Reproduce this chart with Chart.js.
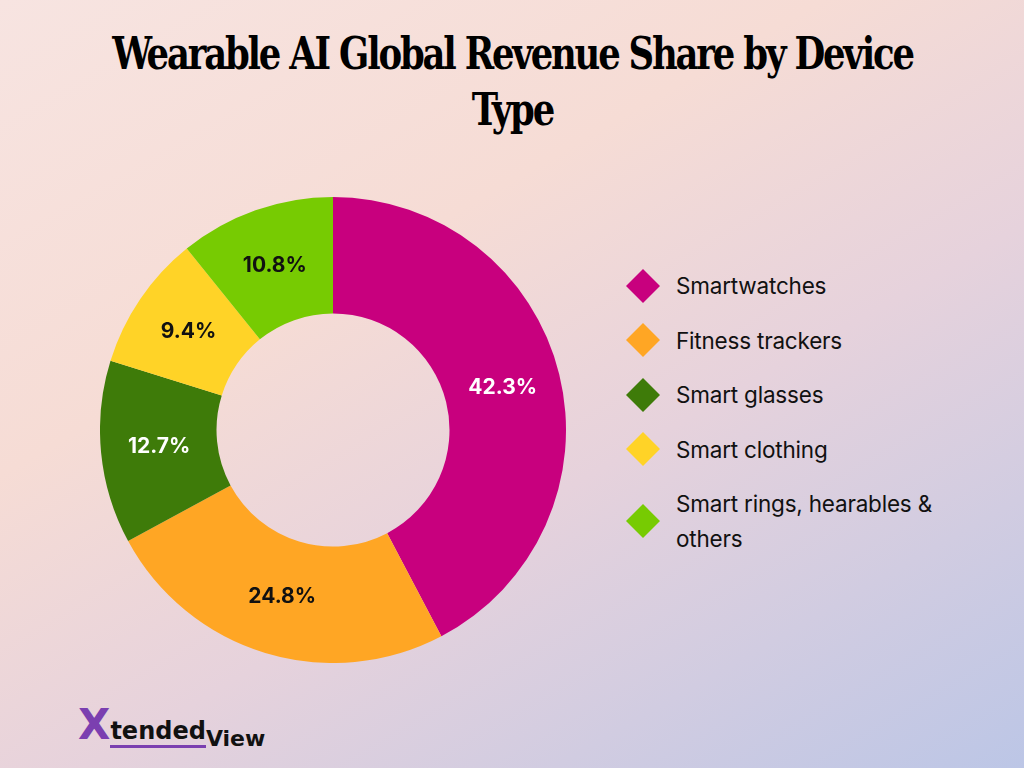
<!DOCTYPE html>
<html>
<head>
<meta charset="utf-8">
<script src="https://cdn.jsdelivr.net/npm/chart.js@4.4.0/dist/chart.umd.min.js"></script>
<style>
  html, body { margin: 0; padding: 0; }
  body {
    width: 1024px; height: 768px; overflow: hidden; position: relative;
    background: linear-gradient(150deg, #f7e4e1 0%, #f6dcd5 35%, #e6d2dc 60%, #bcc6e6 100%);
    font-family: Inter, "Noto Sans", sans-serif;
  }
  #title {
    position: absolute; left: 0; top: 26px; width: 1024px; text-align: center; margin: 0;
  }
  #title span {
    display: inline-block; transform: scaleX(0.875); transform-origin: center;
    font-family: "DejaVu Serif Condensed", "DejaVu Serif", serif; font-stretch: condensed;
    font-weight: bold; font-size: 45px; line-height: 56px; letter-spacing: -2.5px; color: #000;
  }
  #chartBox { position: absolute; left: 100px; top: 197px; width: 466px; height: 466px; }
  #legend { position: absolute; left: 626px; top: 268px; width: 360px; }
  .item { display: flex; align-items: center; margin-bottom: 19.5px; }
  .swatch { width: 24px; height: 24px; transform: rotate(45deg); margin: 0 21px 0 5px; flex: none; }
  .label { font-size: 22.5px; color: #111; line-height: 35px; letter-spacing: -0.2px; }
  #logo { position: absolute; left: 78px; top: 700px; font-family: "DejaVu Sans", sans-serif; font-weight: bold; }
  #logo .x { font-size: 42px; color: #7b3fb0; }
  #logo .t { font-size: 24px; color: #111; border-bottom: 3px solid #7b3fb0; }
  #logo .v { font-size: 22px; color: #111; position: relative; top: 7px; }
</style>
</head>
<body>
<h1 id="title"><span>Wearable AI Global Revenue Share by Device<br>Type</span></h1>
<div id="chartBox"><canvas id="donut"></canvas></div>
<div id="legend"></div>
<div id="logo"><span class="x">X</span><span class="t">tended</span><span class="v">View</span></div>
<script>
// --- Data ---
const categories = ['Smartwatches', 'Fitness trackers', 'Smart glasses', 'Smart clothing', 'Smart rings, hearables & others'];
const shares = [42.3, 24.8, 12.7, 9.4, 10.8];
const colors = ['#c8007e', '#ffa624', '#3e7b09', '#ffd327', '#77cb02'];
const labelColors = ['#ffffff', '#111111', '#ffffff', '#111111', '#111111'];

// Draw the percentage inside each slice
const sliceLabels = {
    id: 'sliceLabels',
    afterDatasetsDraw(chart) {
        const ctx = chart.ctx;
        const meta = chart.getDatasetMeta(0);
        ctx.save();
        ctx.font = 'bold 21px Inter, "Noto Sans", sans-serif';
        ctx.textAlign = 'center';
        ctx.textBaseline = 'middle';
        meta.data.forEach((arc, i) => {
            const p = arc.tooltipPosition();
            ctx.fillStyle = labelColors[i];
            ctx.fillText(shares[i].toFixed(1) + '%', p.x, p.y);
        });
        ctx.restore();
    }
};

new Chart(document.getElementById('donut'), {
    type: 'doughnut',
    data: {
        labels: categories,
        datasets: [{
            data: shares,
            backgroundColor: colors,
            borderWidth: 0,
        }]
    },
    options: {
        responsive: true,
        maintainAspectRatio: false,
        animation: false,
        cutout: '50%',
        layout: { padding: 0 },
        plugins: {
            legend: { display: false },
            tooltip: { enabled: false }
        }
    },
    plugins: [sliceLabels]
});

// --- Legend ---
const legend = document.getElementById('legend');
categories.forEach((c, i) => {
    const row = document.createElement('div');
    row.className = 'item';
    row.innerHTML = '<div class="swatch" style="background:' + colors[i] + '"></div><div class="label">' + c + '</div>';
    legend.appendChild(row);
});
</script>
</body>
</html>
